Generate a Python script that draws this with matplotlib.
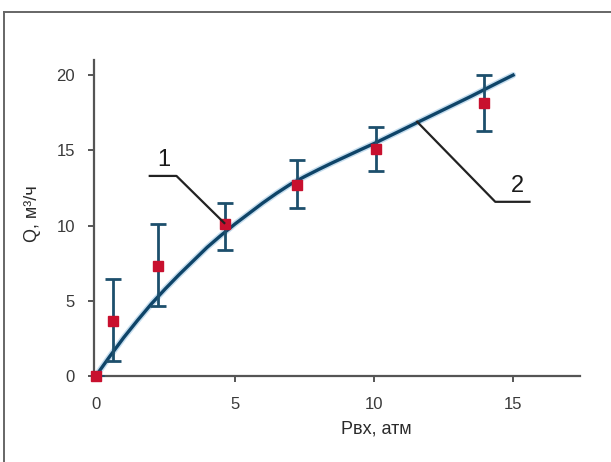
import matplotlib
matplotlib.use("Agg")
import matplotlib.pyplot as plt
from matplotlib.lines import Line2D

plt.rcParams['font.family'] = ['Liberation Sans', 'DejaVu Sans']

# measured points
p_meas = [0.0, 0.62, 2.23, 4.66, 7.25, 10.06, 13.94]
q_meas = [0.0, 3.67, 7.31, 10.08, 12.69, 15.06, 18.16]
q_low = [0.0, 1.0, 4.65, 8.37, 11.14, 13.64, 16.28]
q_high = [0.0, 6.42, 10.08, 11.47, 14.35, 16.52, 20.0]

# calculated curve
p_curve = [0, 0.5, 1, 1.5, 2, 2.5, 3, 3.5, 4, 4.5, 5, 5.5, 6, 6.5, 7, 7.5, 8,
           8.5, 9, 9.5, 10, 10.5, 11, 11.5, 12, 12.5, 13, 13.5, 14, 14.5, 15]
q_curve = [0, 1.3, 2.55, 3.7, 4.8, 5.8, 6.75, 7.65, 8.55, 9.35, 10.1, 10.8,
           11.5, 12.15, 12.75, 13.25, 13.72, 14.17, 14.6, 15.03, 15.45, 15.9,
           16.35, 16.8, 17.25, 17.7, 18.15, 18.6, 19.07, 19.54, 20.0]

x_ticks = [0, 5, 10, 15]
y_ticks = [0, 5, 10, 15, 20]

fig = plt.figure(figsize=(6.11, 4.62), dpi=100)
fig.patch.set_facecolor('white')
ax = fig.add_axes([0.1545, 0.186, 0.7945, 0.684])

ax.plot(p_curve, q_curve, color='#5a9fd0', lw=4.5, alpha=0.35, solid_capstyle='round',
        solid_joinstyle='round', zorder=2)
ax.plot(p_curve, q_curve, color='#0e4468', lw=2.4, solid_joinstyle='round', zorder=3)

err_lo = [q - l for q, l in zip(q_meas, q_low)]
err_hi = [h - q for q, h in zip(q_meas, q_high)]
ax.errorbar(p_meas, q_meas, yerr=[err_lo, err_hi], fmt='none', ecolor='#1d4f6c',
            elinewidth=2.0, capsize=6, capthick=2.0, zorder=4)
ax.plot(p_meas, q_meas, 's', color='#c8102e', markersize=7, zorder=5, clip_on=False)

# leader lines and labels
ax.plot([1.94, 2.9, 4.62], [13.3, 13.3, 10.17], color='#222222', lw=1.6, zorder=6)
ax.text(2.44, 14.35, '1', fontsize=17, ha='center', va='center', color='#1a1a1a')
ax.plot([11.55, 14.36, 15.59], [16.9, 11.58, 11.58], color='#222222', lw=1.6, zorder=6)
ax.text(15.14, 12.6, '2', fontsize=17, ha='center', va='center', color='#1a1a1a')

ax.set_xlim(-0.05, 17.4)
ax.set_ylim(0, 21)
ax.set_xticks(x_ticks)
ax.set_yticks(y_ticks)
for s in ['top', 'right']:
    ax.spines[s].set_visible(False)
for s in ['left', 'bottom']:
    ax.spines[s].set_color('#555555')
    ax.spines[s].set_linewidth(1.6)
ax.tick_params(axis='both', direction='out', length=4, width=1.4, color='#555555',
               labelsize=12, labelcolor='#3a3a3a')
ax.tick_params(axis='x', pad=11)
ax.tick_params(axis='y', pad=10)
ax.set_xlabel('Рвх, атм', fontsize=13, color='#2a2a2a', va='center')
ax.xaxis.set_label_coords(0.58, -0.168)
ax.set_ylabel('Q, м³/ч', fontsize=13, color='#2a2a2a', va='center')
ax.yaxis.set_label_coords(-0.127, 0.513)

# outer frame
fig.add_artist(Line2D([4/611, 4/611], [0, 1 - 12/462], transform=fig.transFigure,
                      color='#666666', lw=1.4))
fig.add_artist(Line2D([4/611, 1], [1 - 12/462, 1 - 12/462], transform=fig.transFigure,
                      color='#666666', lw=1.4))

fig.savefig('out.png', dpi=100)
